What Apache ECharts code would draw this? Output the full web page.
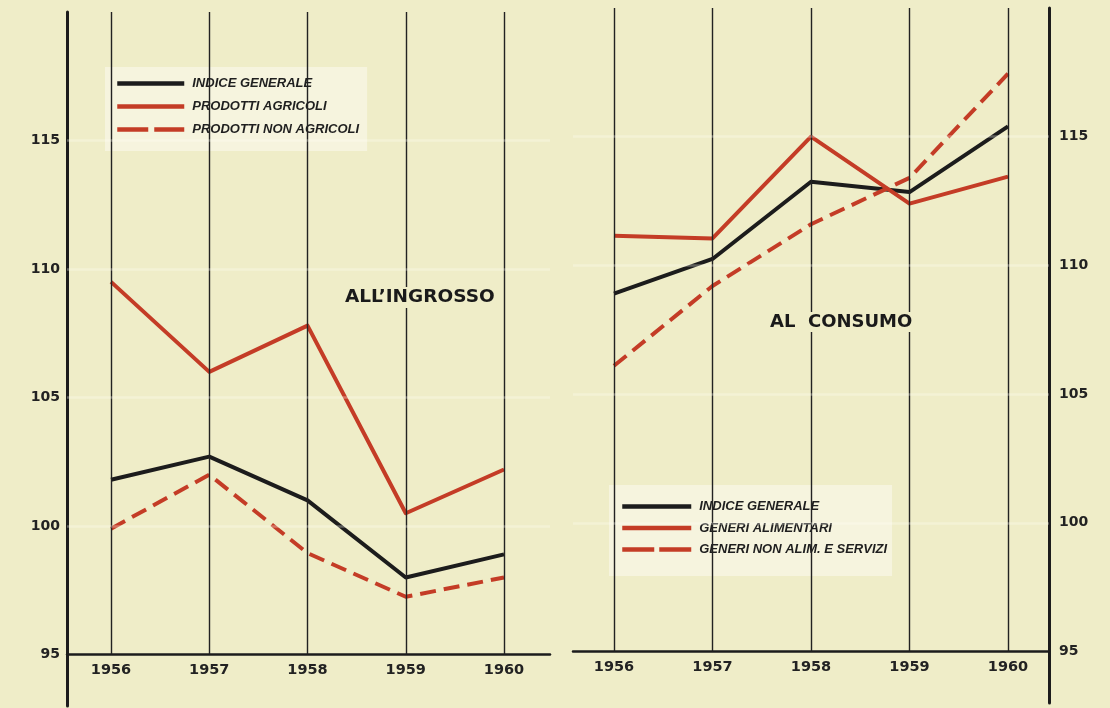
<!DOCTYPE html>
<html>
<head>
<meta charset="utf-8">
<script src="https://cdn.jsdelivr.net/npm/echarts@6/dist/echarts.min.js"></script>
<style>
  html, body { margin: 0; padding: 0; background: #efedc8; }
  #chart { width: 1110px; height: 708px; }
</style>
</head>
<body>
<div id="chart"></div>
<script>
// Indici dei prezzi 1956-1960 (base 100)
const YEARS = [1956, 1957, 1958, 1959, 1960];
const Y_TICKS = [95, 100, 105, 110, 115];

// Prezzi all'ingrosso
const ingrossoGenerale = [101.8, 102.7, 101.0, 98.0, 98.9];
const ingrossoAgricoli = [109.5, 106.0, 107.8, 100.5, 102.2];
const ingrossoNonAgricoli = [99.9, 102.0, 98.95, 97.25, 98.0];

// Prezzi al consumo
const consumoGenerale = [108.9, 110.25, 113.25, 112.85, 115.4];
const consumoAlimentari = [111.15, 111.05, 115.0, 112.4, 113.45];
const consumoNonAlimentari = [106.1, 109.2, 111.6, 113.4, 117.45];

const LEGEND_LEFT = ['INDICE GENERALE', 'PRODOTTI AGRICOLI', 'PRODOTTI NON AGRICOLI'];
const LEGEND_RIGHT = ['INDICE GENERALE', 'GENERI ALIMENTARI', 'GENERI NON ALIM. E SERVIZI'];

const BG = '#efedc8';
const INK = '#1c1c1c';
const RED = '#c43c26';
const Y_MIN = 93, Y_MAX = 120, BASE = 95;

const grids = [
  { left: 67, top: 12, width: 483, height: 694 },
  { left: 573, top: 8, width: 476, height: 695 }
];
const xRanges = [[1955.552, 1960.468], [1955.584, 1960.416]];

const pairs = vals => YEARS.map((y, i) => [y, vals[i]]);
const yearLines = () => YEARS.map(y => [{ coord: [y, BASE] }, { coord: [y, Y_MAX] }]);

function xAxis(i) {
  const g = grids[i];
  return {
    type: 'value', gridIndex: i, min: xRanges[i][0], max: xRanges[i][1],
    minInterval: 1, maxInterval: 1,
    offset: -g.height * (BASE - Y_MIN) / (Y_MAX - Y_MIN),
    axisLine: { show: true, lineStyle: { color: INK, width: 2.5 } },
    axisTick: { show: false },
    splitLine: { show: false },
    axisLabel: {
      showMinLabel: false, showMaxLabel: false, margin: 8,
      color: '#222', fontFamily: 'DejaVu Sans', fontWeight: 'bold', fontSize: 14.5,
      formatter: v => YEARS.includes(v) ? String(v) : ''
    }
  };
}

function yAxis(i, position, margin) {
  return {
    type: 'value', gridIndex: i, position, min: Y_MIN, max: Y_MAX,
    minInterval: 5, maxInterval: 5,
    axisLine: { show: true, lineStyle: { color: INK, width: 3 } },
    axisTick: { show: false },
    splitLine: { show: false },
    axisLabel: {
      showMinLabel: false, margin, padding: [4, 0, 0, 0],
      color: '#222', fontFamily: 'DejaVu Sans', fontWeight: 'bold', fontSize: 14,
      formatter: v => Y_TICKS.includes(v) ? String(v) : ''
    }
  };
}

function line(name, vals, i, color, dashed) {
  return {
    name, type: 'line', xAxisIndex: i, yAxisIndex: i, z: 3,
    data: pairs(vals), symbol: 'none', color,
    lineStyle: { color, width: 4, type: dashed ? [16, 8] : 'solid', join: 'round' }
  };
}

// vertical year rules plus faint horizontal streaks at the labelled levels
function gridlines(i) {
  return {
    type: 'line', xAxisIndex: i, yAxisIndex: i, z: 1, data: [], silent: true,
    markLine: {
      silent: true, symbol: ['none', 'none'], label: { show: false },
      lineStyle: { color: '#222', width: 1.4, type: 'solid' },
      data: yearLines().concat(Y_TICKS.filter(t => t > BASE).map(t => ({
        yAxis: t,
        lineStyle: { color: 'rgba(255,255,245,0.3)', width: 2.5, type: 'solid' }
      })))
    }
  };
}

const legendText = {
  color: '#1f1f1f', fontFamily: 'Liberation Sans', fontStyle: 'italic',
  fontWeight: 'bold', fontSize: 13, padding: [0, 0, 0, 3]
};
const legendItem = (name, color, dash) => ({
  name,
  itemStyle: { color, opacity: 0 },
  lineStyle: { color, width: 4.5, type: dash || 'solid', cap: 'butt' }
});

const option = {
  backgroundColor: BG,
  animation: false,
  title: [
    { text: 'ALL\u2019INGROSSO', left: 343, top: 287, padding: [1, 2],
      backgroundColor: BG,
      textStyle: { fontFamily: 'DejaVu Sans', fontWeight: 'bold', fontSize: 18.5, color: '#1a1a1a' } },
    { text: 'AL  CONSUMO', left: 768, top: 312, padding: [1, 2],
      backgroundColor: BG,
      textStyle: { fontFamily: 'DejaVu Sans', fontWeight: 'bold', fontSize: 18, color: '#1a1a1a' } }
  ],
  legend: [
    {
      left: 105, top: 67, orient: 'vertical', itemWidth: 67, itemHeight: 6, itemGap: 10,
      padding: [10, 8, 15, 10], backgroundColor: '#f6f4de', selectedMode: false,
      textStyle: legendText,
      data: [
        legendItem(LEGEND_LEFT[0], INK),
        legendItem(LEGEND_LEFT[1], RED),
        legendItem(LEGEND_LEFT[2], RED, [31, 6])
      ]
    },
    {
      left: 609, top: 485, orient: 'vertical', itemWidth: 69, itemHeight: 6, itemGap: 8.5,
      padding: [15, 5, 20, 11], backgroundColor: '#f6f4de', selectedMode: false,
      textStyle: legendText,
      data: [
        legendItem(LEGEND_RIGHT[0], INK),
        legendItem(LEGEND_RIGHT[1], RED),
        legendItem(LEGEND_RIGHT[2], RED, [32, 5])
      ]
    }
  ],
  grid: grids,
  xAxis: [xAxis(0), xAxis(1)],
  yAxis: [yAxis(0, 'left', 7), yAxis(1, 'right', 10)],
  series: [
    gridlines(0),
    gridlines(1),
    line(LEGEND_LEFT[0], ingrossoGenerale, 0, INK, false),
    line(LEGEND_LEFT[1], ingrossoAgricoli, 0, RED, false),
    line(LEGEND_LEFT[2], ingrossoNonAgricoli, 0, RED, true),
    line(LEGEND_RIGHT[0], consumoGenerale, 1, INK, false),
    line(LEGEND_RIGHT[1], consumoAlimentari, 1, RED, false),
    line(LEGEND_RIGHT[2], consumoNonAlimentari, 1, RED, true)
  ]
};

echarts.init(document.getElementById('chart'), null, { renderer: 'canvas' }).setOption(option);
</script>
</body>
</html>
